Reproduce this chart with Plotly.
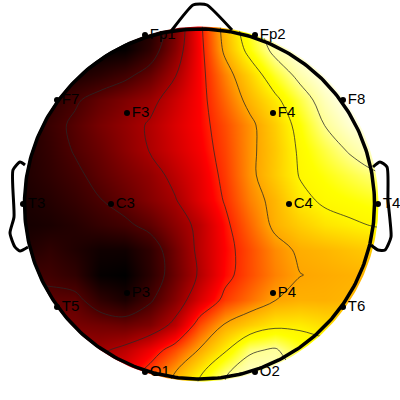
import numpy as np
import plotly.graph_objects as go

# Electrode positions (head coordinates, y downward)
channels = ["Fp1","Fp2","F7","F3","F4","F8","T3","C3","C4","T4","T5","P3","P4","T6","O1","O2"]
chan_x = [145,255,57,127,273,343,23,111,289,378,57,127,273,343,145,255]
chan_y = [35,35,100,113,113,100,204,204,204,204,307,293,293,307,372,372]

grid_x = list(range(0,401,25))
grid_y = list(range(0,401,25))
# Scalp values (rows: grid_y, cols: grid_x)
r000 = [0,0,0,0,0,1,5,20,41,62,80,93,98,100,100,100,100]
r025 = [0,0,0,0,0,1,5,20,41,61,80,93,98,100,100,100,100]
r050 = [2,2,1,0,0,1,9,23,40,59,75,89,97,100,100,100,100]
r075 = [4,4,4,5,8,12,18,28,40,53,65,78,89,97,100,100,100]
r100 = [6,6,8,13,18,22,26,33,40,50,60,69,80,91,99,100,100]
r125 = [5,5,11,16,21,25,29.5,35,40,47,55,64,75,86,94,98,100]
r150 = [6,6,10,15,19,24,29,34,39,46,55,63,73,80,87,94,96]
r175 = [6,6,9,12.5,17,21,25,31,37,45,55,63.5,72,76,80,84,86]
r200 = [5,5,7,10,14,18,23,28,36,43.5,53,60,69,73,75,77,78]
r225 = [4,4,5,7,10,12.5,17,24,31,41,50,59,64,68,70,72,73]
r250 = [6,6,9,6,3,3,9,20,31,40,47,54,58.5,60,62,64,65]
r275 = [12,12,12,9,1,0,8,19,30,40.5,47,53,57,58,59,60,60]
r300 = [18,18,17,17,9,5,13,23,35,45,51,57,59,59,60,60,60]
r325 = [22,22,22,21,20,19,22,31,47,58,64,69,69.5,67,66,66,66]
r350 = [28,28,28,27,27,31,38,47,58,70,84,87,78,76,76,76,76]
r375 = [34,34,34,34,34,38,47,58,71,85,93,92,84,80,78,78,78]
r400 = [38,38,38,38,38,42,50,62,75,88,96,95,88,82,80,80,80]
scalp = [r000,r025,r050,r075,r100,r125,r150,r175,r200,r225,r250,r275,r300,r325,r350,r375,r400]

contour_start = 100/7
contour_step = 100/7
contour_end = 600/7

nose_x = [172,193,200,207,232]
nose_y = [30,5,4,5,30]
ear_l_x = [25,20,13,14,10,15,20,28]
ear_l_y = [165,162,170,217,233,247,251,247]
ear_r_x = [373,380,387,388,390,391,385,378,371]
ear_r_y = [167,162,167,200,220,237,250,250,245]

head_cx, head_cy, head_r = 199.5, 204, 175
mask_cx, mask_cy, mask_r = 201, 204, 177.5

t = np.linspace(0, 2*np.pi, 361)
ox = head_cx + head_r*np.cos(t)
oy = head_cy + head_r*np.sin(t)
# white mask: page rectangle with a round hole (hole wound the opposite way)
mx = [-10,410,410,-10,-10, mask_cx+mask_r] + list(mask_cx + mask_r*np.cos(-t)) + [-10]
my = [-10,-10,410,410,mask_cy, mask_cy] + list(mask_cy + mask_r*np.sin(-t)) + [mask_cy]

hot = [[0,"#000000"],[0.143,"rgb(75,0,0)"],[0.286,"rgb(170,0,0)"],[0.40,"rgb(255,0,0)"],
       [0.43,"rgb(255,40,0)"],[0.57,"rgb(255,165,0)"],[0.71,"rgb(255,245,0)"],[0.75,"rgb(255,255,0)"],
       [0.86,"rgb(255,255,150)"],[1,"#ffffff"]]

fig = go.Figure()
fig.add_trace(go.Heatmap(x=grid_x, y=grid_y, z=scalp, zmin=0, zmax=100, zsmooth="best",
                         colorscale=hot, showscale=False, hoverinfo="skip"))
fig.add_trace(go.Contour(x=grid_x, y=grid_y, z=scalp, showscale=False, hoverinfo="skip",
                         contours=dict(coloring="none", start=contour_start, end=contour_end, size=contour_step),
                         line=dict(color="rgba(40,40,40,0.85)", width=0.9, smoothing=1)))
fig.add_trace(go.Scatter(x=mx, y=my, mode="lines", fill="toself", fillcolor="white",
                         line=dict(width=0), hoverinfo="skip"))
line = dict(color="black", width=3.5)
fig.add_trace(go.Scatter(x=list(ox), y=list(oy), mode="lines", line=line, hoverinfo="skip"))
fig.add_trace(go.Scatter(x=nose_x, y=nose_y, mode="lines", line=dict(color="black", width=3, shape="spline", smoothing=0.6), hoverinfo="skip"))
fig.add_trace(go.Scatter(x=ear_l_x, y=ear_l_y, mode="lines", line=dict(color="black", width=3, shape="spline", smoothing=0.6), hoverinfo="skip"))
fig.add_trace(go.Scatter(x=ear_r_x, y=ear_r_y, mode="lines", line=dict(color="black", width=3, shape="spline", smoothing=0.6), hoverinfo="skip"))
fig.add_trace(go.Scatter(x=chan_x, y=chan_y, mode="markers+text", text=channels,
                         textposition="middle right",
                         textfont=dict(family="Liberation Sans, Arial, sans-serif", size=15, color="black"),
                         marker=dict(color="black", size=6), hoverinfo="skip"))
fig.update_layout(width=400, height=400, margin=dict(l=0,r=0,t=0,b=0), showlegend=False,
                  paper_bgcolor="white", plot_bgcolor="white",
                  xaxis=dict(range=[0,400], visible=False, fixedrange=True),
                  yaxis=dict(range=[400,0], visible=False, fixedrange=True))
fig.write_html("out.html", config=dict(displayModeBar=False),
               post_script="document.body.style.margin='0';document.body.style.overflow='hidden';")
